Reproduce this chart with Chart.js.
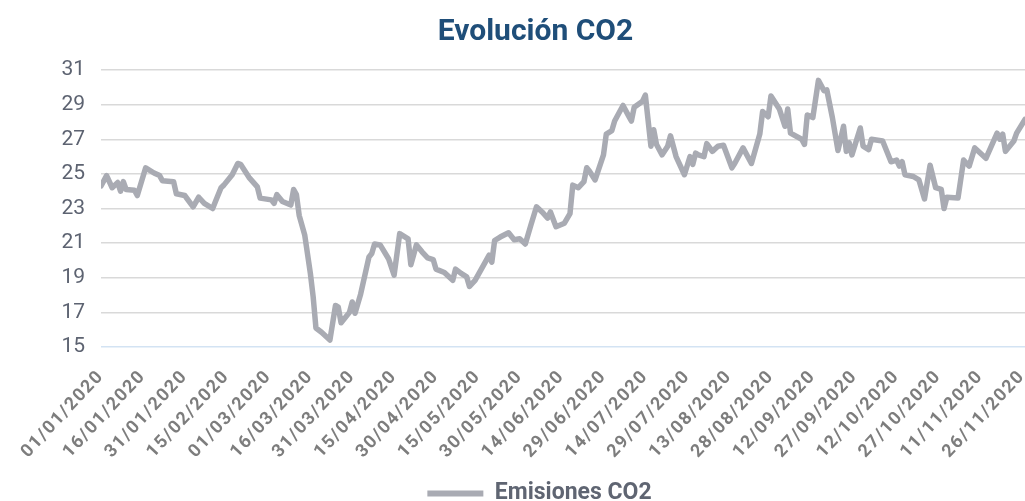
<!DOCTYPE html>
<html>
<head>
<meta charset="utf-8">
<script src="https://cdn.jsdelivr.net/npm/chart.js@4.4.1/dist/chart.umd.min.js"></script>
<style>
  html, body { margin: 0; padding: 0; background: #fff; overflow: hidden; }
  #wrap { width: 1025px; height: 501px; overflow: hidden; }
</style>
</head>
<body>
<div id="wrap"><canvas id="co2" width="1025" height="515"></canvas></div>
<script>
// day offset from 01/01/2020 and CO2 price
const days = [
  0, 2, 4, 6, 7, 8, 9, 12, 13, 16,
  19, 21, 22, 26, 27, 30, 33, 35, 37, 40,
  41, 43, 44, 47, 49, 50, 53, 56, 57, 61,
  62, 63, 65, 68, 69, 70, 71, 73, 75, 76,
  77, 79, 82, 84, 85, 86, 89, 90, 91, 93,
  96, 97, 98, 100, 103, 105, 107, 108, 110, 111,
  113, 115, 117, 119, 120, 123, 126, 127, 129, 131,
  132, 134, 138, 139, 140, 141, 143, 146, 148, 150,
  152, 154, 156, 158, 160, 161, 163, 166, 168, 169,
  171, 173, 174, 175, 177, 180, 181, 183, 184, 187,
  189, 190, 191, 194, 195, 197, 198, 199, 201, 203,
  204, 206, 209, 211, 212, 213, 214, 216, 217, 219,
  221, 223, 226, 227, 230, 233, 236, 237, 239, 240,
  243, 245, 246, 247, 251, 252, 253, 255, 257, 259,
  260, 262, 264, 266, 267, 268, 269, 272, 273, 275,
  276, 280, 283, 285, 286, 287, 288, 291, 293, 295,
  297, 299, 301, 302, 303, 307, 309, 311, 313, 317,
  321, 322, 323, 324, 327, 328, 331
];
const emisiones = [
  24.3, 24.9, 24.2, 24.5, 24.0, 24.55, 24.1, 24.05, 23.75, 25.35,
  25.05, 24.9, 24.6, 24.55, 23.85, 23.75, 23.1, 23.65, 23.3, 23.0,
  23.4, 24.2, 24.35, 24.95, 25.6, 25.55, 24.8, 24.25, 23.6, 23.5,
  23.3, 23.8, 23.4, 23.2, 24.1, 23.8, 22.6, 21.45, 19.25, 17.9,
  16.1, 15.85, 15.4, 17.4, 17.3, 16.4, 17.0, 17.6, 16.95, 18.05,
  20.2, 20.4, 20.95, 20.9, 20.1, 19.15, 21.55, 21.45, 21.25, 19.75,
  20.9, 20.5, 20.15, 20.05, 19.5, 19.3, 18.85, 19.5, 19.25, 19.05,
  18.5, 18.85, 20.0, 20.3, 19.9, 21.15, 21.35, 21.6, 21.2, 21.25,
  20.95, 22.05, 23.1, 22.8, 22.45, 22.8, 21.95, 22.15, 22.7, 24.35,
  24.2, 24.55, 25.35, 25.15, 24.65, 26.1, 27.3, 27.5, 28.05, 28.95,
  28.35, 28.05, 28.85, 29.2, 29.55, 26.6, 27.55, 26.7, 26.1, 26.6,
  27.2, 26.0, 24.95, 26.0, 25.55, 26.2, 26.1, 26.0, 26.75, 26.3,
  26.6, 26.65, 25.35, 25.6, 26.5, 25.6, 27.3, 28.6, 28.3, 29.5,
  28.75, 27.75, 28.75, 27.35, 27.0, 26.7, 28.4, 28.25, 30.4, 29.8,
  29.85, 28.25, 26.35, 27.75, 26.3, 26.8, 26.1, 27.65, 26.6, 26.4,
  27.0, 26.9, 25.7, 25.8, 25.45, 25.7, 24.95, 24.85, 24.65, 23.55,
  25.5, 24.2, 24.1, 23.0, 23.65, 23.6, 25.8, 25.45, 26.5, 25.9,
  27.35, 27.0, 27.3, 26.3, 26.9, 27.35, 28.15
];
// x tick labels, one every 15 days
const tickLabels = [
  '01/01/2020', '16/01/2020', '31/01/2020', '15/02/2020', '01/03/2020', '16/03/2020',
  '31/03/2020', '15/04/2020', '30/04/2020', '15/05/2020', '30/05/2020', '14/06/2020',
  '29/06/2020', '14/07/2020', '29/07/2020', '13/08/2020', '28/08/2020', '12/09/2020',
  '27/09/2020', '12/10/2020', '27/10/2020', '11/11/2020', '26/11/2020'
];
const tickStep = 15;
const yTicks = [15, 17, 19, 21, 23, 25, 27, 29, 31];

const lineGrey = '#a9abb3';

// the original has title and legend a bit right of the canvas centre
const shiftBoxes = {
  id: 'shiftBoxes',
  afterLayout(chart) {
    const t = chart.titleBlock;
    if (t) { t.left += 23; t.right += 23; }
    const l = chart.legend;
    if (l) { l.left += 27; l.right += 27; }
  }
};

// x labels are drawn last (ticks.z = 1), give them some tracking
const dateSpacing = {
  id: 'dateSpacing',
  afterDatasetsDraw(chart) { chart.ctx.letterSpacing = '1.6px'; },
  afterDraw(chart) { chart.ctx.letterSpacing = '0px'; }
};

new Chart(document.getElementById('co2'), {
  type: 'line',
  data: {
    datasets: [{
      label: 'Emisiones CO2',
      data: days.map((d, i) => ({ x: d, y: emisiones[i] })),
      borderColor: lineGrey,
      backgroundColor: lineGrey,
      borderWidth: 5.5,
      borderJoinStyle: 'round',
      borderCapStyle: 'round',
      pointRadius: 0,
      tension: 0
    }]
  },
  options: {
    responsive: false,
    animation: false,
    layout: { padding: { left: 0, right: 0, top: 0, bottom: 0 } },
    scales: {
      x: {
        type: 'linear',
        min: 0,
        max: 331,
        afterBuildTicks(scale) {
          scale.ticks = tickLabels.map((_, i) => ({ value: i * tickStep }));
        },
        afterFit(scale) {
          scale.paddingLeft = 0;
          scale.paddingRight = 0;
          scale.height = 125;
        },
        grid: { display: false, drawTicks: false },
        border: { display: false },
        ticks: {
          z: 1,
          autoSkip: false,
          minRotation: 47,
          maxRotation: 47,
          padding: 19,
          color: '#7d7d7d',
          font: { family: 'Roboto', size: 18, weight: 'bold' },
          callback: (v) => tickLabels[Math.round(v / tickStep)]
        }
      },
      y: {
        min: 15,
        max: 31,
        afterBuildTicks(scale) {
          scale.ticks = yTicks.map(v => ({ value: v }));
        },
        afterFit(scale) { scale.width = 101; },
        grid: {
          drawTicks: false,
          lineWidth: 1.5,
          color: (ctx) => ctx.tick && ctx.tick.value === 15 ? '#d3e3f3' : '#d9d9d9'
        },
        border: { display: false },
        ticks: {
          padding: 16,
          color: '#5d6371',
          font: { family: 'Roboto', size: 21 }
        }
      }
    },
    plugins: {
      title: {
        display: true,
        text: 'Evolución CO2',
        color: '#1f4e79',
        font: { family: 'Roboto', size: 30, weight: 'bold' },
        padding: { top: 14, bottom: 20 }
      },
      legend: {
        display: true,
        position: 'bottom',
        labels: {
          boxWidth: 56,
          boxHeight: 6,
          padding: 10,
          color: '#5f6572',
          font: { family: 'Roboto', size: 23, weight: 'bold' },
          generateLabels(chart) {
            return Chart.defaults.plugins.legend.labels.generateLabels(chart).map(l => {
              l.lineWidth = 0;
              l.fillStyle = lineGrey;
              return l;
            });
          }
        }
      },
      tooltip: { enabled: false }
    }
  },
  plugins: [shiftBoxes, dateSpacing]
});
</script>
</body>
</html>
